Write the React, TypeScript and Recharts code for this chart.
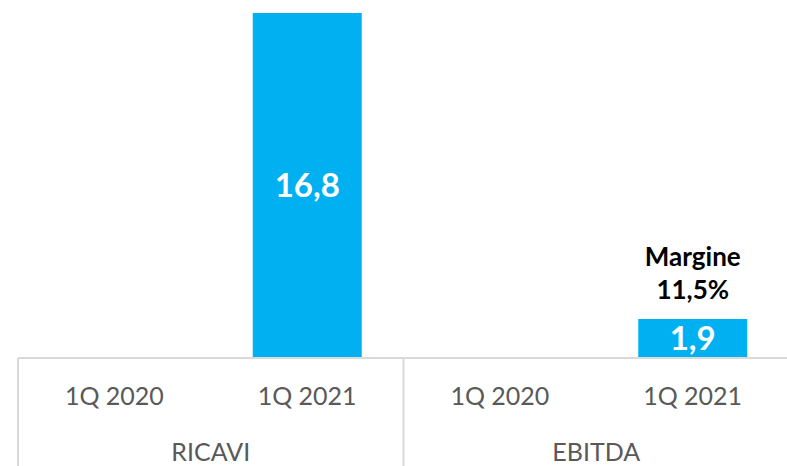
import { Bar, BarChart, LabelList, XAxis, YAxis } from "recharts";

const quarters = ["1Q 2020", "1Q 2021", "1Q 2020", "1Q 2021"];
const groups = ["RICAVI", "RICAVI", "EBITDA", "EBITDA"];
const values = [null, 16.8, null, 1.9];
const margins = [null, null, null, "11,5%"];

const data = quarters.map((q, i) => ({
  quarter: q,
  group: groups[i],
  value: values[i],
  margin: margins[i],
}));

const FONT = "Lato, 'Open Sans', sans-serif";
const GRID = "#d9d9d9";

const fmt = (v: any) => (v == null ? "" : String(v).replace(".", ","));

const QuarterTick = (props: any) => {
  const { x, y, payload, index } = props;
  const half = payload?.offset || 96.4;
  const row = data[index];
  const isGroupStart = index === 0 || row.group !== data[index - 1].group;
  const isLast = index === data.length - 1;
  return (
    <g>
      <text
        x={x}
        y={y + 47}
        textAnchor="middle"
        fill="#595959"
        fontSize={25}
        fontFamily={FONT}
      >
        {payload.value}
      </text>
      {isGroupStart && (
        <>
          <line x1={x - half} y1={y} x2={x - half} y2={y + 120} stroke={GRID} strokeWidth={2} />
          <text
            x={x + half}
            y={y + 103}
            textAnchor="middle"
            fill="#595959"
            fontSize={25}
            fontFamily={FONT}
          >
            {row.group}
          </text>
        </>
      )}
      {isLast && (
        <line x1={x + half} y1={y} x2={x + half} y2={y + 120} stroke={GRID} strokeWidth={2} />
      )}
    </g>
  );
};

const MarginLabel = (props: any) => {
  const { x, y, width, value } = props;
  if (!value) return null;
  const cx = x + width / 2;
  return (
    <g fontFamily={FONT} fontWeight="bold" fontSize={26} fill="#000">
      <text x={cx} y={y - 53} textAnchor="middle">
        Margine
      </text>
      <text x={cx} y={y - 20} textAnchor="middle">
        {value}
      </text>
    </g>
  );
};

export default function App() {
  return (
    <div
      style={{
        position: "absolute",
        left: 0,
        top: 0,
        width: 787,
        height: 466,
        overflow: "hidden",
        background: "#fff",
      }}
    >
      <BarChart
        width={790}
        height={466}
        data={data}
        margin={{ top: 13, right: 1, left: 18, bottom: 0 }}
        barCategoryGap={42}
      >
        <YAxis hide domain={[0, 16.8]} />
        <XAxis
          dataKey="quarter"
          height={108}
          tickLine={false}
          tickSize={0}
          tickMargin={0}
          interval={0}
          axisLine={{ stroke: GRID, strokeWidth: 2 }}
          tick={<QuarterTick />}
        />
        <Bar dataKey="value" fill="#00b0f0" isAnimationActive={false}>
          <LabelList
            dataKey="value"
            position="center"
            formatter={fmt}
            fill="#fff"
            fontSize={33}
            fontWeight="bold"
            fontFamily={FONT}
          />
          <LabelList dataKey="margin" content={<MarginLabel />} />
        </Bar>
      </BarChart>
    </div>
  );
}
